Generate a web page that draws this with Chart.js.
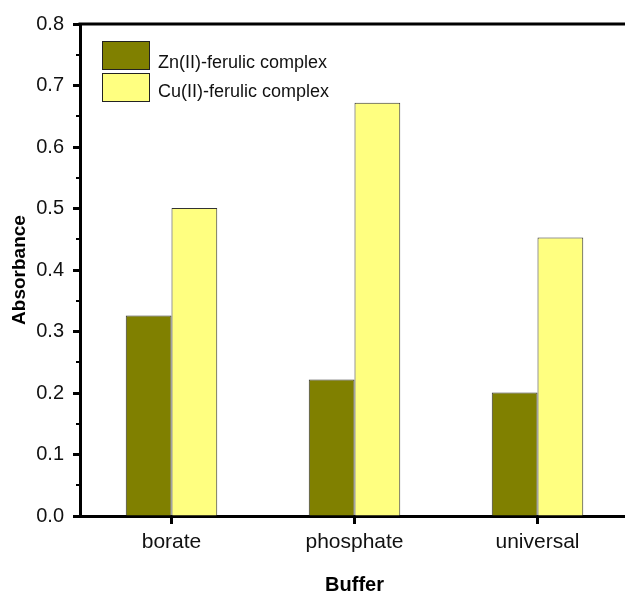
<!DOCTYPE html>
<html>
<head>
<meta charset="utf-8">
<script src="https://cdn.jsdelivr.net/npm/chart.js@4/dist/chart.umd.min.js"></script>
<style>
  html, body { margin: 0; padding: 0; background: #fff; overflow: hidden; }
  canvas { display: block; }
</style>
</head>
<body>
<!-- the plot runs a few pixels past the right edge of the window -->
<canvas id="absorbanceChart" width="629" height="594"></canvas>
<script>
// Absorbance of the two complexes in each buffer
const buffers = ['borate', 'phosphate', 'universal'];
const znValues = [0.326, 0.222, 0.201];
const cuValues = [0.501, 0.672, 0.453];
const seriesNames = ['Zn(II)-ferulic complex', 'Cu(II)-ferulic complex'];
const yTicks = [0, 0.1, 0.2, 0.3, 0.4, 0.5, 0.6, 0.7, 0.8];

const olive = '#808000';
const paleYellow = '#ffff80';
const fontFamily = '"Liberation Sans", Arial, sans-serif';

// minor ticks, top border line and the boxed legend
const framePlugin = {
  id: 'frame',
  afterDraw(chart) {
    const ctx = chart.ctx;
    const area = chart.chartArea;
    const y = chart.scales.y;
    ctx.save();
    ctx.strokeStyle = '#000';

    // minor ticks halfway between the major ones
    ctx.lineWidth = 2;
    for (let i = 0; i < yTicks.length - 1; i++) {
      const py = Math.round(y.getPixelForValue((yTicks[i] + yTicks[i + 1]) / 2));
      ctx.beginPath();
      ctx.moveTo(area.left - 4, py);
      ctx.lineTo(area.left, py);
      ctx.stroke();
    }

    // top border
    ctx.lineWidth = 3;
    ctx.beginPath();
    ctx.moveTo(area.left - 1.5, area.top);
    ctx.lineTo(area.right, area.top);
    ctx.stroke();

    // legend
    const colors = [olive, paleYellow];
    const textBase = [68, 96.5];
    ctx.font = '18px ' + fontFamily;
    ctx.textBaseline = 'alphabetic';
    seriesNames.forEach((name, i) => {
      const bx = 102, by = 41 + i * 32;
      ctx.fillStyle = colors[i];
      ctx.fillRect(bx, by, 48, 29);
      ctx.lineWidth = 1;
      ctx.strokeStyle = '#222';
      ctx.strokeRect(bx + 0.5, by + 0.5, 47, 28);
      ctx.fillStyle = '#111';
      ctx.fillText(name, 158, textBase[i]);
    });
    ctx.restore();
  }
};

new Chart(document.getElementById('absorbanceChart'), {
  type: 'bar',
  data: {
    labels: buffers,
    datasets: [
      {
        label: seriesNames[0],
        data: znValues,
        backgroundColor: olive,
        borderColor: '#333',
        borderWidth: 1,
        categoryPercentage: 0.5,
        barPercentage: 1.0,
      },
      {
        label: seriesNames[1],
        data: cuValues,
        backgroundColor: paleYellow,
        borderColor: '#333',
        borderWidth: 1,
        categoryPercentage: 0.5,
        barPercentage: 1.0,
      },
    ],
  },
  options: {
    responsive: false,
    animation: false,
    layout: { padding: { top: 24, right: 0, left: 0, bottom: 0 } },
    plugins: {
      legend: { display: false },
      tooltip: { enabled: false },
    },
    scales: {
      x: {
        grid: {
          offset: false,
          drawOnChartArea: false,
          drawTicks: true,
          tickLength: 8,
          tickWidth: 3,
          tickColor: '#000',
        },
        border: { color: '#000', width: 3 },
        ticks: {
          color: '#111',
          padding: 6,
          font: { family: fontFamily, size: 21 },
        },
        title: {
          display: true,
          text: 'Buffer',
          color: '#000',
          font: { family: fontFamily, size: 20, weight: 'bold' },
          padding: { top: 0, bottom: -3 },
        },
        afterFit(scale) { scale.height = 78; },
      },
      y: {
        min: 0,
        max: 0.8,
        afterBuildTicks(scale) { scale.ticks = yTicks.map(v => ({ value: v })); },
        grid: {
          drawOnChartArea: false,
          drawTicks: true,
          tickLength: 7,
          tickWidth: 3,
          tickColor: '#000',
        },
        border: { color: '#000', width: 3 },
        ticks: {
          color: '#111',
          padding: 9,
          font: { family: fontFamily, size: 20 },
          callback: v => Number(v).toFixed(1),
        },
        title: {
          display: true,
          text: 'Absorbance',
          color: '#000',
          font: { family: fontFamily, size: 19, weight: 'bold' },
          padding: { top: 8, bottom: 0 },
        },
        afterFit(scale) { scale.width = 80; },
      },
    },
  },
  plugins: [framePlugin],
});
</script>
</body>
</html>
